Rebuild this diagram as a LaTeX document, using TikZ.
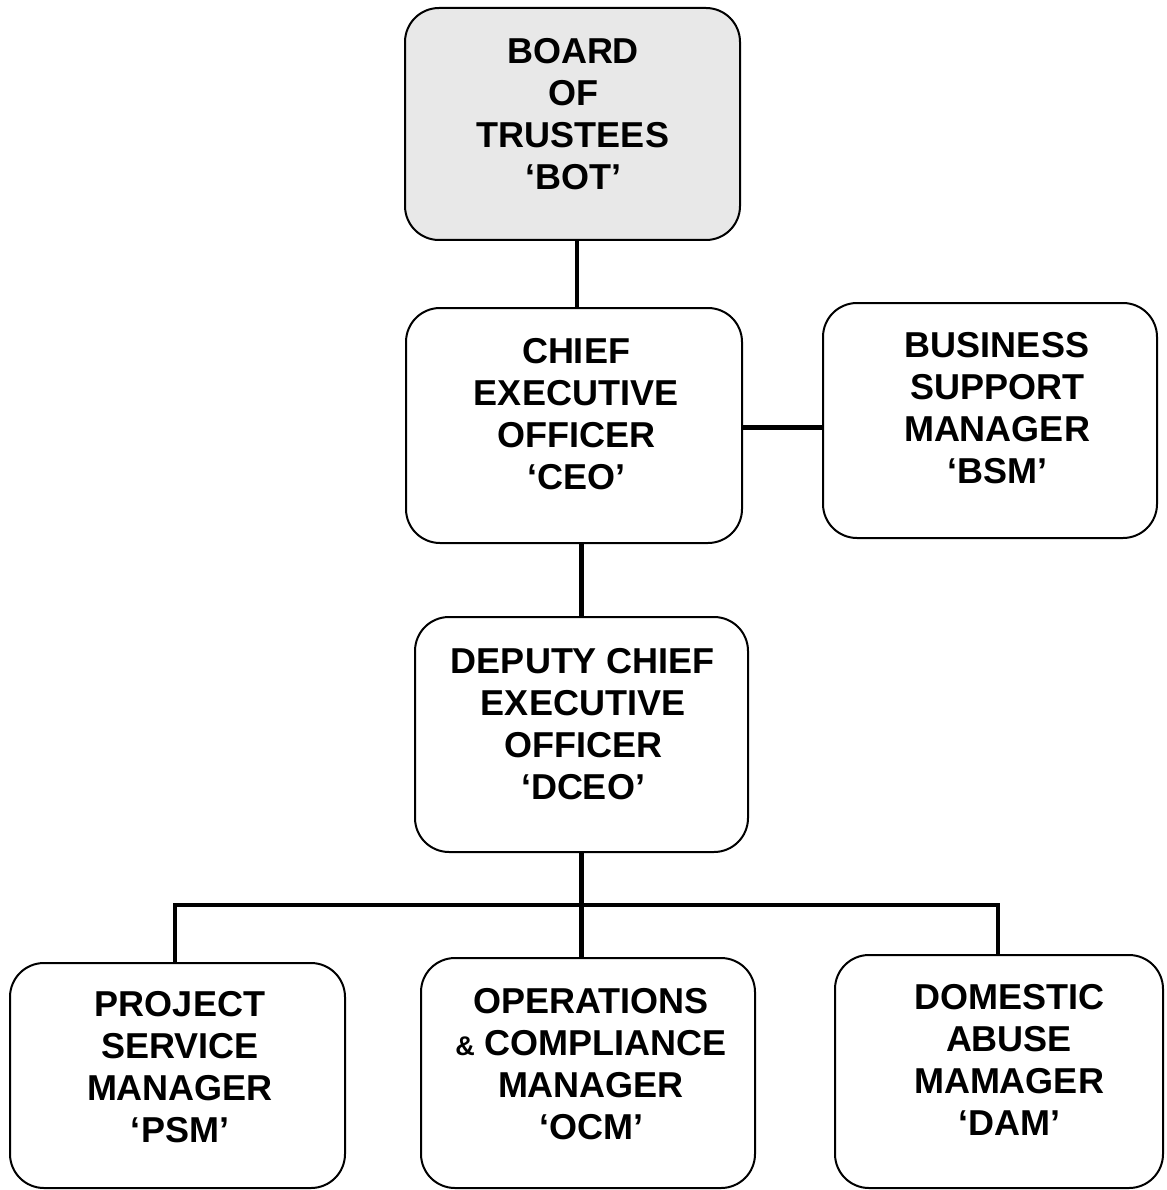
\documentclass[tikz,border=0pt]{standalone}
\usepackage{fontspec}
\setmainfont{Liberation Sans}
\begin{document}
\begin{tikzpicture}[x=1pt,y=-1pt,
  box/.style={draw=black, line width=2pt, rounded corners=34pt, inner sep=0pt},
  lbl/.style={font=\bfseries\fontsize{36}{42}\selectfont, align=center, inner sep=0pt},
  conn/.style={line width=4.5pt, line cap=butt}]
\useasboundingbox[fill=white] (0,0) rectangle (1166,1190);
% boxes
\node[box, fill=black!9, minimum width=335pt, minimum height=232pt] (bot) at (572.5,124) {};
\node[box, minimum width=336pt, minimum height=235pt] (ceo) at (574,425.5) {};
\node[box, minimum width=334pt, minimum height=235pt] (bsm) at (990,420.5) {};
\node[box, minimum width=333pt, minimum height=235pt] (dceo) at (581.5,734.5) {};
\node[box, minimum width=335pt, minimum height=225pt] (psm) at (177.5,1075.5) {};
\node[box, minimum width=334pt, minimum height=230pt] (ocm) at (588,1073) {};
\node[box, minimum width=328pt, minimum height=233pt] (dam) at (999,1071.5) {};
% labels
\node[lbl] (botT) at (573,114) {BOARD\\OF\\TRUSTEES\\‘BOT’};
\node[lbl] (ceoT) at (576,414) {CHIEF\\EXECUTIVE\\OFFICER\\‘CEO’};
\node[lbl] (bsmT) at (997,408) {BUSINESS\\SUPPORT\\MANAGER\\‘BSM’};
\node[lbl] (dceoT) at (583,724) {DEPUTY CHIEF\\EXECUTIVE\\OFFICER\\‘DCEO’};
\node[lbl] (psmT) at (180,1067) {PROJECT\\SERVICE\\MANAGER\\‘PSM’};
\node[lbl] (ocmT) at (591,1064) {OPERATIONS\\{\fontsize{27}{42}\selectfont\&} COMPLIANCE\\MANAGER\\‘OCM’};
\node[lbl] (damT) at (1009,1060) {DOMESTIC\\ABUSE\\MAMAGER\\‘DAM’};
% connectors
\draw[conn] ([xshift=4.5pt]bot.south) -- ([xshift=4.5pt]bot.south |- ceo.north);
\draw[conn] ([yshift=-2pt]ceo.east) -- ([yshift=-2pt]ceo.east -| bsm.west);
\draw[conn] (ceo.south -| dceo) -- (dceo.north);
\coordinate (busL) at (175,905);
\coordinate (busR) at (998,905);
\draw[conn] (dceo.south) -- (dceo.south |- ocm.north);
\draw[conn] (busL |- psm.north) -- (busL) -- (busR) -- (busR |- dam.north);
\end{tikzpicture}
\end{document}
